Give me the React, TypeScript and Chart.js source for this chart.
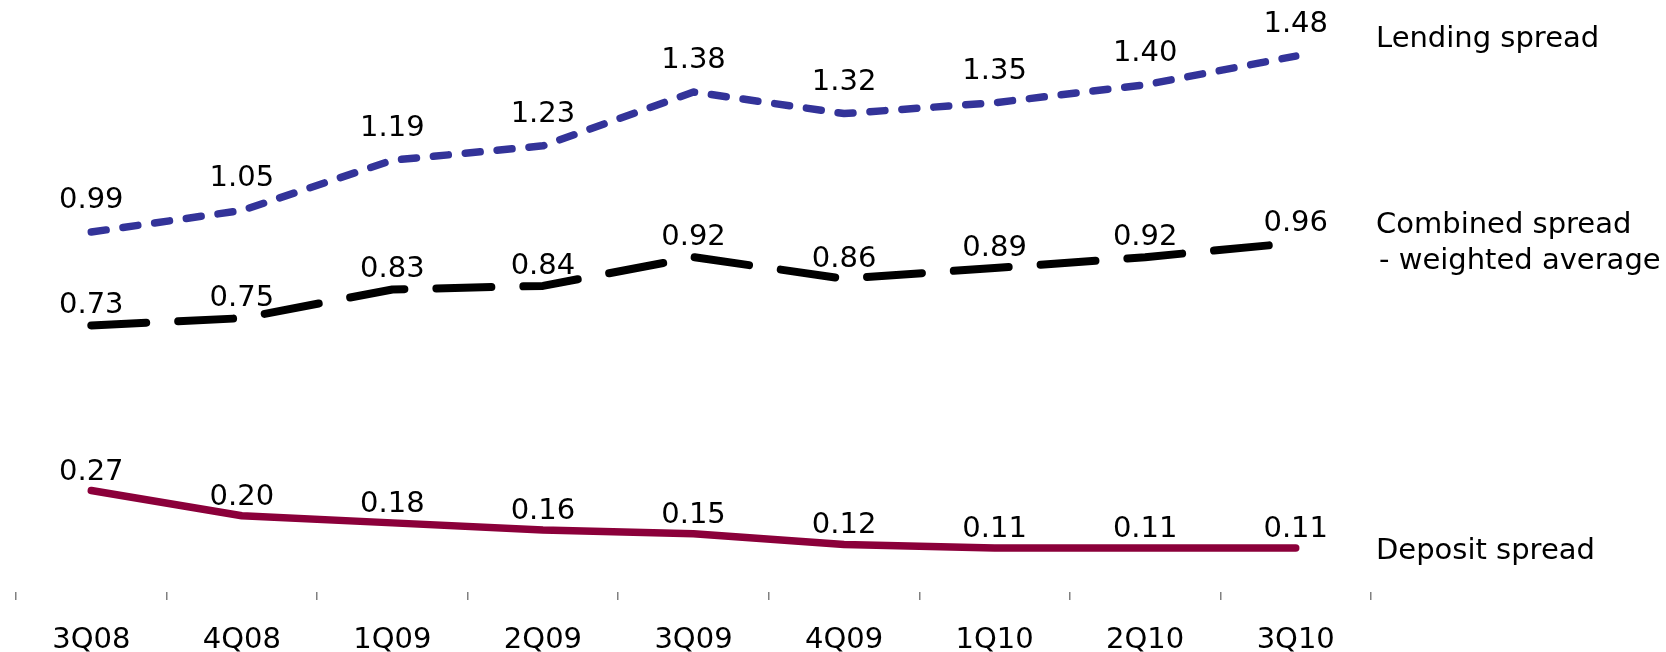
import React, { useEffect, useRef } from "react";
import { Chart, registerables } from "chart.js";

Chart.register(...registerables);

const categories = ["3Q08", "4Q08", "1Q09", "2Q09", "3Q09", "4Q09", "1Q10", "2Q10", "3Q10"];
const lendingSpread = [0.99, 1.05, 1.19, 1.23, 1.38, 1.32, 1.35, 1.4, 1.48];
const combinedSpread = [0.73, 0.75, 0.83, 0.84, 0.92, 0.86, 0.89, 0.92, 0.96];
const depositSpread = [0.27, 0.2, 0.18, 0.16, 0.15, 0.12, 0.11, 0.11, 0.11];
const seriesNames = [["Lending spread"], ["Combined spread", "- weighted average"], ["Deposit spread"]];

const FONT = '"DejaVu Sans", Verdana, sans-serif';
const FONT_SIZE = 29;

// per-dataset offsets (pixels) of the value labels above points
const valueOffsets = [24, 12, 11];
// per-dataset baseline offsets of series names from last point
const nameOffsets = [-9, -10, 11];
const nameLineHeight = 36;

const labelPlugin = {
  id: "valueAndNameLabels",
  afterDatasetsDraw(chart: any) {
    const ctx = chart.ctx;
    ctx.save();
    ctx.font = `${FONT_SIZE}px ${FONT}`;
    ctx.fillStyle = "#000";
    ctx.textBaseline = "alphabetic";
    chart.data.datasets.forEach((ds: any, di: number) => {
      const meta = chart.getDatasetMeta(di);
      ctx.textAlign = "center";
      meta.data.forEach((pt: any, i: number) => {
        ctx.fillText(Number(ds.data[i]).toFixed(2), pt.x, pt.y - valueOffsets[di]);
      });
      const last = meta.data[meta.data.length - 1];
      ctx.textAlign = "left";
      const lines = seriesNames[di];
      lines.forEach((line, li) => {
        const x = chart.chartArea.right + (line.startsWith("-") ? 8 : 5);
        ctx.fillText(line, x, last.y + nameOffsets[di] + li * nameLineHeight);
      });
    });
    ctx.restore();
  },
};

export default function App() {
  const canvasRef = useRef<HTMLCanvasElement | null>(null);

  useEffect(() => {
    if (!canvasRef.current) return;
    const chart = new Chart(canvasRef.current, {
      type: "line",
      data: {
        labels: categories,
        datasets: [
          {
            label: seriesNames[0].join(" "),
            data: lendingSpread,
            borderColor: "#333399",
            borderWidth: 7.5,
            borderDash: [15, 17],
            borderCapStyle: "round",
            borderJoinStyle: "round",
            pointRadius: 0,
            tension: 0,
            fill: false,
          },
          {
            label: seriesNames[1].join(" "),
            data: combinedSpread,
            borderColor: "#000000",
            borderWidth: 8,
            borderDash: [55, 32],
            borderCapStyle: "round",
            borderJoinStyle: "round",
            pointRadius: 0,
            tension: 0,
            fill: false,
          },
          {
            label: seriesNames[2].join(" "),
            data: depositSpread,
            borderColor: "#8B003A",
            borderWidth: 7.5,
            borderCapStyle: "round",
            borderJoinStyle: "round",
            pointRadius: 0,
            tension: 0,
            fill: false,
          },
        ],
      },
      options: {
        responsive: false,
        animation: false,
        devicePixelRatio: 1,
        layout: { padding: { left: 16, right: 295, top: 13, bottom: 0 } },
        plugins: {
          legend: { display: false },
          tooltip: { enabled: false },
        },
        scales: {
          x: {
            offset: true,
            grid: {
              display: true,
              offset: true,
              drawOnChartArea: false,
              drawTicks: true,
              tickLength: 8,
              color: "#808080",
              lineWidth: 1.5,
            },
            border: { display: false },
            ticks: {
              color: "#000",
              font: { family: FONT, size: FONT_SIZE },
              padding: 23,
              maxRotation: 0,
              autoSkip: false,
            },
            afterFit: (s: any) => {
              s.height = 60;
            },
          },
          y: { display: false, min: -0.0125, max: 1.6 },
        },
      },
      plugins: [labelPlugin],
    } as any);
    return () => chart.destroy();
  }, []);

  return (
    <div style={{ position: "fixed", left: 0, top: 0, width: 1666, height: 652, background: "#fff" }}>
      <canvas ref={canvasRef} width={1666} height={652} style={{ display: "block" }} />
    </div>
  );
}
